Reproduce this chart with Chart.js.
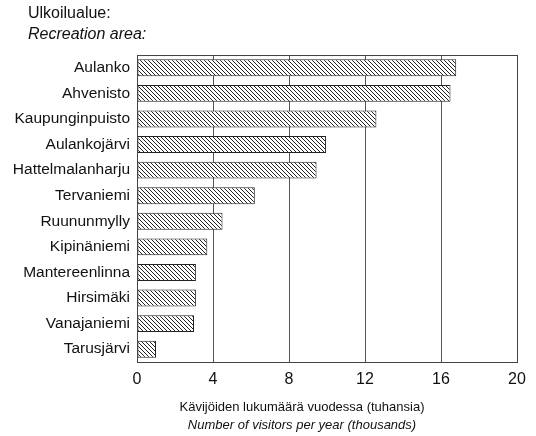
<!DOCTYPE html>
<html>
<head>
<meta charset="utf-8">
<script src="https://cdn.jsdelivr.net/npm/chart.js@4"></script>
<style>
  html, body { margin: 0; padding: 0; background: #fff; }
  #wrap { width: 536px; height: 436px; }
</style>
</head>
<body>
<div id="wrap"><canvas id="chart" width="536" height="436"></canvas></div>
<script>
// Ulkoilualueet ja kävijämäärät (tuhansia / vuosi)
const alueet = ['Aulanko', 'Ahvenisto', 'Kaupunginpuisto', 'Aulankojärvi', 'Hattelmalanharju',
    'Tervaniemi', 'Ruununmylly', 'Kipinäniemi', 'Mantereenlinna', 'Hirsimäki', 'Vanajaniemi', 'Tarusjärvi'];
const kavijat = [16.8, 16.5, 12.6, 9.95, 9.45, 6.2, 4.5, 3.7, 3.1, 3.1, 3.0, 1.0];
const tickArvot = [0, 4, 8, 12, 16, 20];

const fontti = '"Liberation Sans", Arial, Helvetica, sans-serif';

// Vinoviivoitus palkkeihin
function teeViivoitus() {
    const c = document.createElement('canvas');
    c.width = 4; c.height = 4;
    const g = c.getContext('2d');
    g.fillStyle = '#fff';
    g.fillRect(0, 0, 4, 4);
    g.strokeStyle = '#222';
    g.lineWidth = 1;
    g.beginPath();
    g.moveTo(-1, -1); g.lineTo(5, 5);
    g.moveTo(-1, 3); g.lineTo(1, 5);
    g.moveTo(3, -1); g.lineTo(5, 1);
    g.stroke();
    return g.createPattern(c, 'repeat');
}

// Otsikot ja kehys piirretään itse
const tekstit = {
    id: 'tekstit',
    afterDraw(chart) {
        const ctx = chart.ctx;
        const a = chart.chartArea;
        ctx.save();
        ctx.strokeStyle = '#444';
        ctx.lineWidth = 1;
        ctx.strokeRect(Math.round(a.left) + 0.5, Math.round(a.top) + 0.5,
            Math.round(a.right - a.left), Math.round(a.bottom - a.top));
        ctx.fillStyle = '#111';
        ctx.textBaseline = 'middle';
        ctx.textAlign = 'left';
        ctx.font = '16px ' + fontti;
        ctx.fillText('Ulkoilualue:', 28, 14);
        ctx.font = 'italic 16px ' + fontti;
        ctx.fillText('Recreation area:', 28, 35);
        ctx.textAlign = 'center';
        ctx.font = '13px ' + fontti;
        ctx.fillText('Kävijöiden lukumäärä vuodessa (tuhansia)', 302, 407);
        ctx.font = 'italic 13px ' + fontti;
        ctx.fillText('Number of visitors per year (thousands)', 302, 425);
        ctx.restore();
    }
};

const ctx = document.getElementById('chart').getContext('2d');
const chart = new Chart(ctx, {
    type: 'bar',
    data: {
        labels: alueet,
        datasets: [{
            data: kavijat,
            backgroundColor: teeViivoitus(),
            borderColor: '#222',
            borderWidth: 1,
            borderSkipped: false,
            barPercentage: 0.66,
            categoryPercentage: 1
        }]
    },
    options: {
        indexAxis: 'y',
        responsive: false,
        animation: false,
        layout: { padding: { top: 55, right: 19, left: 0, bottom: 0 } },
        plugins: {
            legend: { display: false },
            tooltip: { enabled: false }
        },
        scales: {
            x: {
                min: 0,
                max: 20,
                afterBuildTicks(scale) {
                    scale.ticks = tickArvot.map(v => ({ value: v }));
                },
                afterFit(scale) { scale.height = 74; },
                grid: { color: '#555', lineWidth: 1, drawTicks: false },
                border: { display: false },
                ticks: {
                    padding: 8,
                    color: '#111',
                    font: { family: fontti, size: 16 }
                }
            },
            y: {
                afterFit(scale) { scale.width = 137; },
                grid: { display: false, drawTicks: false },
                border: { display: false },
                ticks: {
                    padding: 7,
                    color: '#111',
                    font: { family: fontti, size: 15.5 }
                }
            }
        }
    },
    plugins: [tekstit]
});
</script>
</body>
</html>
